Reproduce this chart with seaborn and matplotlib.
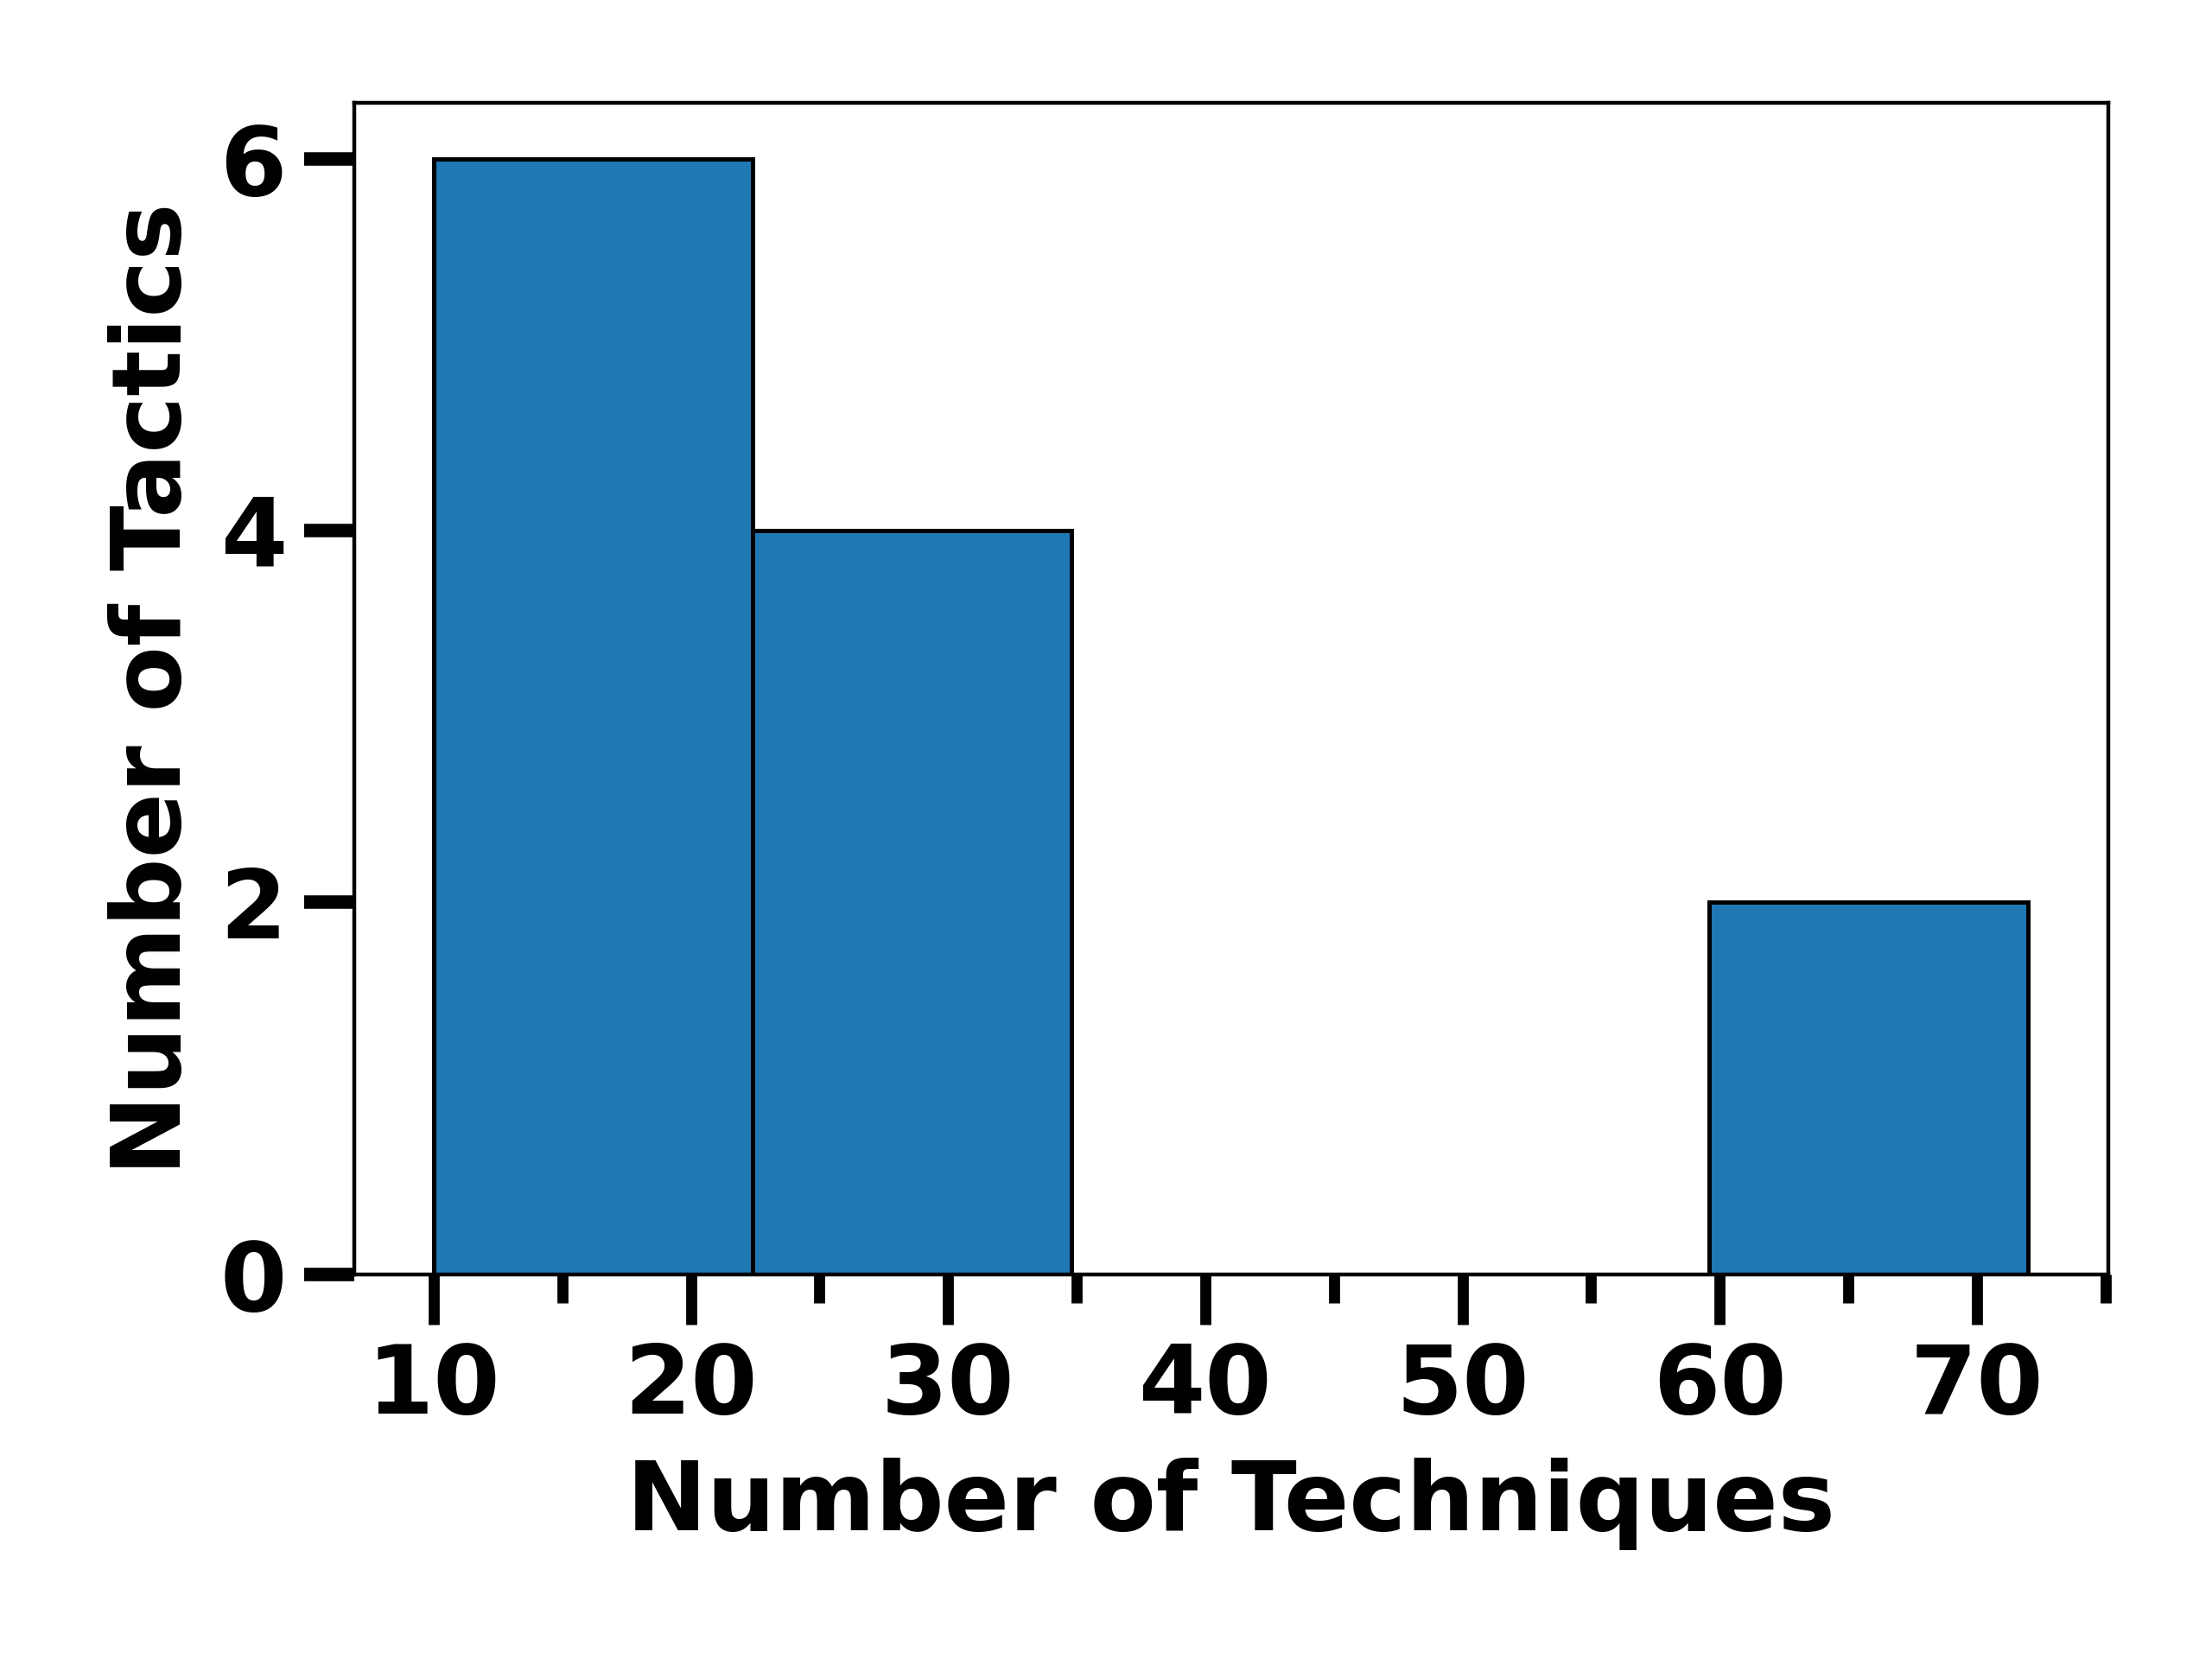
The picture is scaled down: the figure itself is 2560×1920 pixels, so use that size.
import matplotlib
matplotlib.use("Agg")
import matplotlib.pyplot as plt
import seaborn as sns
from matplotlib.ticker import MultipleLocator

# histogram: bin edges and number of tactics per bin
bin_edges = [10, 22.4, 34.8, 47.2, 59.6, 72]
tactic_counts = [6, 4, 0, 0, 2]
bin_centers = [(a + b) / 2 for a, b in zip(bin_edges[:-1], bin_edges[1:])]

sns.set_style("ticks")
plt.rcParams['font.family'] = ['DejaVu Sans']
plt.rcParams['font.weight'] = 'bold'
plt.rcParams['axes.labelweight'] = 'bold'
for key in ['text.color', 'axes.labelcolor', 'xtick.color', 'ytick.color', 'axes.edgecolor']:
    plt.rcParams[key] = 'black'

fig, ax = plt.subplots(figsize=(6.4, 4.8), dpi=400)
sns.histplot(x=bin_centers, weights=tactic_counts, bins=bin_edges,
             color='#1f77b4', edgecolor='black', linewidth=0.9, alpha=1, ax=ax)

ax.set_xlabel('Number of Techniques', fontsize=20, fontweight='bold', labelpad=5)
ax.set_ylabel('Number of Tactics', fontsize=20, fontweight='bold', labelpad=4)

ax.xaxis.set_major_locator(MultipleLocator(10))
ax.xaxis.set_minor_locator(MultipleLocator(5))
ax.yaxis.set_major_locator(MultipleLocator(2))
ax.tick_params(axis='x', which='major', length=10.5, width=2.3, labelsize=20, direction='out')
ax.tick_params(axis='x', which='minor', length=6, width=2.3, direction='out')
ax.tick_params(axis='y', which='major', length=10.5, width=2.8, labelsize=20, direction='out')
for lbl in ax.get_xticklabels() + ax.get_yticklabels():
    lbl.set_fontweight('bold')

for sp in ax.spines.values():
    sp.set_visible(True)
    sp.set_linewidth(0.8)
    sp.set_color('black')

fig.subplots_adjust(left=0.160, right=0.953, top=0.938, bottom=0.232)
plt.savefig('out.png', dpi=400)
